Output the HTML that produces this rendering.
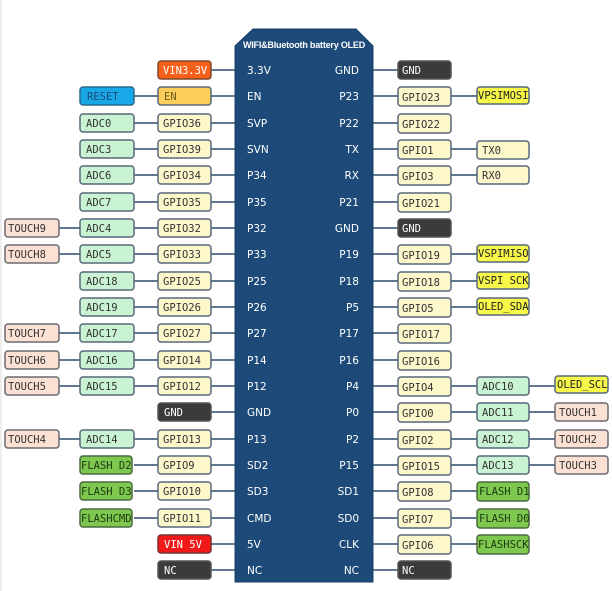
<!DOCTYPE html>
<html><head><meta charset="utf-8"><style>
html,body{margin:0;padding:0;background:#fff;width:612px;height:591px;overflow:hidden}
svg{display:block}
.b text{font-family:"DejaVu Sans Mono","Liberation Mono",monospace;font-size:10.5px}
.p text{font-family:"DejaVu Sans","Liberation Sans",sans-serif;font-size:10.5px;fill:#fff}
</style></head><body>
<svg width="612" height="591" viewBox="0 0 612 591" xmlns="http://www.w3.org/2000/svg">
<rect x="0" y="0" width="612" height="591" fill="#fff"/>
<rect x="0" y="0" width="2" height="591" fill="#eee"/>
<path d="M235,46 L253,29 L356,29 L373,46 L373,582 L235,582 Z" fill="#1d4a78" stroke="#17406a"/>
<text x="304" y="48" text-anchor="middle" font-family="Liberation Sans,sans-serif" font-size="9" font-weight="bold" letter-spacing="-0.2" fill="#fff">WIFI&amp;Bluetooth battery OLED</text>
<g stroke="#2d4d6b" stroke-width="1.6">
<line x1="211" y1="70" x2="235" y2="70"/>
<line x1="134" y1="96" x2="235" y2="96"/>
<line x1="134" y1="123" x2="235" y2="123"/>
<line x1="134" y1="149" x2="235" y2="149"/>
<line x1="134" y1="175" x2="235" y2="175"/>
<line x1="134" y1="202" x2="235" y2="202"/>
<line x1="59" y1="228" x2="235" y2="228"/>
<line x1="59" y1="254" x2="235" y2="254"/>
<line x1="134" y1="281" x2="235" y2="281"/>
<line x1="134" y1="307" x2="235" y2="307"/>
<line x1="59" y1="333" x2="235" y2="333"/>
<line x1="59" y1="360" x2="235" y2="360"/>
<line x1="59" y1="386" x2="235" y2="386"/>
<line x1="211" y1="412" x2="235" y2="412"/>
<line x1="59" y1="439" x2="235" y2="439"/>
<line x1="134" y1="465" x2="235" y2="465"/>
<line x1="134" y1="491" x2="235" y2="491"/>
<line x1="134" y1="518" x2="235" y2="518"/>
<line x1="211" y1="544" x2="235" y2="544"/>
<line x1="211" y1="570" x2="235" y2="570"/>
<line x1="373" y1="70" x2="398" y2="70"/>
<line x1="373" y1="96" x2="477" y2="96"/>
<line x1="373" y1="123" x2="398" y2="123"/>
<line x1="373" y1="149" x2="477" y2="149"/>
<line x1="373" y1="175" x2="477" y2="175"/>
<line x1="373" y1="202" x2="398" y2="202"/>
<line x1="373" y1="228" x2="398" y2="228"/>
<line x1="373" y1="254" x2="477" y2="254"/>
<line x1="373" y1="281" x2="477" y2="281"/>
<line x1="373" y1="307" x2="477" y2="307"/>
<line x1="373" y1="333" x2="398" y2="333"/>
<line x1="373" y1="360" x2="398" y2="360"/>
<line x1="373" y1="386" x2="555" y2="386"/>
<line x1="373" y1="412" x2="555" y2="412"/>
<line x1="373" y1="439" x2="555" y2="439"/>
<line x1="373" y1="465" x2="555" y2="465"/>
<line x1="373" y1="491" x2="477" y2="491"/>
<line x1="373" y1="518" x2="477" y2="518"/>
<line x1="373" y1="544" x2="477" y2="544"/>
<line x1="373" y1="570" x2="398" y2="570"/>
</g>
<g class="p">
<text x="247" y="74">3.3V</text><text x="247" y="100">EN</text><text x="247" y="127">SVP</text><text x="247" y="153">SVN</text><text x="247" y="179">P34</text><text x="247" y="206">P35</text><text x="247" y="232">P32</text><text x="247" y="258">P33</text><text x="247" y="285">P25</text><text x="247" y="311">P26</text><text x="247" y="337">P27</text><text x="247" y="364">P14</text><text x="247" y="390">P12</text><text x="247" y="416">GND</text><text x="247" y="443">P13</text><text x="247" y="469">SD2</text><text x="247" y="495">SD3</text><text x="247" y="522">CMD</text><text x="247" y="548">5V</text><text x="247" y="574">NC</text>
</g>
<g class="p" text-anchor="end">
<text x="359" y="74">GND</text><text x="359" y="100">P23</text><text x="359" y="127">P22</text><text x="359" y="153">TX</text><text x="359" y="179">RX</text><text x="359" y="206">P21</text><text x="359" y="232">GND</text><text x="359" y="258">P19</text><text x="359" y="285">P18</text><text x="359" y="311">P5</text><text x="359" y="337">P17</text><text x="359" y="364">P16</text><text x="359" y="390">P4</text><text x="359" y="416">P0</text><text x="359" y="443">P2</text><text x="359" y="469">P15</text><text x="359" y="495">SD1</text><text x="359" y="522">SD0</text><text x="359" y="548">CLK</text><text x="359" y="574">NC</text>
</g>
<g class="b" stroke-width="1.5">
<g stroke="#56687a" fill="#fdf8cc">
<rect x="158" y="61" width="53" height="18" rx="3" fill="#f7601a" stroke="#7a4a2a"/>
<rect x="158" y="87" width="53" height="18" rx="3" fill="#fbcf5a"/>
<rect x="158" y="114" width="53" height="18" rx="3"/>
<rect x="158" y="140" width="53" height="18" rx="3"/>
<rect x="158" y="166" width="53" height="18" rx="3"/>
<rect x="158" y="193" width="53" height="18" rx="3"/>
<rect x="158" y="219" width="53" height="18" rx="3"/>
<rect x="158" y="245" width="53" height="18" rx="3"/>
<rect x="158" y="272" width="53" height="18" rx="3"/>
<rect x="158" y="298" width="53" height="18" rx="3"/>
<rect x="158" y="324" width="53" height="18" rx="3"/>
<rect x="158" y="351" width="53" height="18" rx="3"/>
<rect x="158" y="377" width="53" height="18" rx="3"/>
<rect x="158" y="403" width="53" height="18" rx="3" fill="#3b3b3b" stroke="#555"/>
<rect x="158" y="430" width="53" height="18" rx="3"/>
<rect x="158" y="456" width="53" height="18" rx="3"/>
<rect x="158" y="482" width="53" height="18" rx="3"/>
<rect x="158" y="509" width="53" height="18" rx="3"/>
<rect x="158" y="535" width="53" height="18" rx="3" fill="#f01818" stroke="#7a3030"/>
<rect x="158" y="561" width="53" height="18" rx="3" fill="#3b3b3b" stroke="#555"/>
</g>
<g stroke="#56687a" fill="#c9f3d3">
<rect x="80" y="87" width="54" height="18" rx="3" fill="#18a8e8" stroke="#2a6a8a"/>
<rect x="80" y="114" width="54" height="18" rx="3"/>
<rect x="80" y="140" width="54" height="18" rx="3"/>
<rect x="80" y="166" width="54" height="18" rx="3"/>
<rect x="80" y="193" width="54" height="18" rx="3"/>
<rect x="80" y="219" width="54" height="18" rx="3"/>
<rect x="80" y="245" width="54" height="18" rx="3"/>
<rect x="80" y="272" width="54" height="18" rx="3"/>
<rect x="80" y="298" width="54" height="18" rx="3"/>
<rect x="80" y="324" width="54" height="18" rx="3"/>
<rect x="80" y="351" width="54" height="18" rx="3"/>
<rect x="80" y="377" width="54" height="18" rx="3"/>
<rect x="80" y="430" width="54" height="18" rx="3"/>
<rect x="80" y="456" width="52" height="18" rx="3" fill="#7fc850" stroke="#4a6a40"/>
<rect x="80" y="482" width="52" height="18" rx="3" fill="#7fc850" stroke="#4a6a40"/>
<rect x="80" y="509" width="52" height="18" rx="3" fill="#7fc850" stroke="#4a6a40"/>
</g>
<g stroke="#6a6a72" fill="#fbe1d3">
<rect x="5" y="219" width="54" height="18" rx="3"/>
<rect x="5" y="245" width="54" height="18" rx="3"/>
<rect x="5" y="324" width="54" height="18" rx="3"/>
<rect x="5" y="351" width="54" height="18" rx="3"/>
<rect x="5" y="377" width="54" height="18" rx="3"/>
<rect x="5" y="430" width="54" height="18" rx="3"/>
</g>
<g stroke="#56687a" fill="#fdf8cc">
<rect x="398" y="61" width="53" height="18" rx="3" fill="#3b3b3b" stroke="#555"/>
<rect x="398" y="87" width="53" height="19" rx="3"/>
<rect x="398" y="114" width="53" height="19" rx="3"/>
<rect x="398" y="140" width="53" height="19" rx="3"/>
<rect x="398" y="166" width="53" height="19" rx="3"/>
<rect x="398" y="193" width="53" height="19" rx="3"/>
<rect x="398" y="219" width="53" height="18" rx="3" fill="#3b3b3b" stroke="#555"/>
<rect x="398" y="245" width="53" height="19" rx="3"/>
<rect x="398" y="272" width="53" height="19" rx="3"/>
<rect x="398" y="298" width="53" height="19" rx="3"/>
<rect x="398" y="324" width="53" height="19" rx="3"/>
<rect x="398" y="351" width="53" height="19" rx="3"/>
<rect x="398" y="377" width="53" height="19" rx="3"/>
<rect x="398" y="403" width="53" height="19" rx="3"/>
<rect x="398" y="430" width="53" height="19" rx="3"/>
<rect x="398" y="456" width="53" height="19" rx="3"/>
<rect x="398" y="482" width="53" height="19" rx="3"/>
<rect x="398" y="509" width="53" height="19" rx="3"/>
<rect x="398" y="535" width="53" height="19" rx="3"/>
<rect x="398" y="561" width="53" height="18" rx="3" fill="#3b3b3b" stroke="#555"/>
</g>
<g stroke="#56687a">
<rect x="477" y="87" width="52" height="17" rx="3" fill="#f8f84a"/>
<rect x="477" y="141" width="52" height="18" rx="3" fill="#fdf8cc"/>
<rect x="477" y="166" width="52" height="18" rx="3" fill="#fdf8cc"/>
<rect x="477" y="245" width="52" height="17" rx="3" fill="#f8f84a"/>
<rect x="477" y="272" width="52" height="17" rx="3" fill="#f8f84a"/>
<rect x="477" y="298" width="52" height="17" rx="3" fill="#f8f84a"/>
<rect x="477" y="377" width="52" height="18" rx="3" fill="#c9f3d3"/>
<rect x="477" y="403" width="52" height="18" rx="3" fill="#c9f3d3"/>
<rect x="477" y="430" width="52" height="18" rx="3" fill="#c9f3d3"/>
<rect x="477" y="456" width="52" height="18" rx="3" fill="#c9f3d3"/>
<rect x="477" y="482" width="52" height="19" rx="3" fill="#7fc850" stroke="#4a6a40"/>
<rect x="477" y="509" width="52" height="19" rx="3" fill="#7fc850" stroke="#4a6a40"/>
<rect x="477" y="535" width="52" height="19" rx="3" fill="#7fc850" stroke="#4a6a40"/>
</g>
<g stroke="#6a6a72" fill="#fbe1d3">
<rect x="555" y="376" width="53" height="17" rx="3" fill="#f8f84a" stroke="#56687a"/>
<rect x="555" y="403" width="53" height="18" rx="3"/>
<rect x="555" y="430" width="53" height="18" rx="3"/>
<rect x="555" y="456" width="53" height="18" rx="3"/>
</g>
<g fill="#333">
<text x="163" y="74" fill="#fff">VIN3.3V</text>
<text x="164" y="100" fill="#6a5a20">EN</text>
<text x="163" y="127">GPIO36</text><text x="163" y="153">GPIO39</text><text x="163" y="179">GPIO34</text><text x="163" y="206">GPIO35</text><text x="163" y="232">GPIO32</text><text x="163" y="258">GPIO33</text><text x="163" y="285">GPIO25</text><text x="163" y="311">GPIO26</text><text x="163" y="337">GPIO27</text><text x="163" y="364">GPIO14</text><text x="163" y="390">GPIO12</text>
<text x="164" y="416" fill="#fff">GND</text>
<text x="163" y="443">GPIO13</text><text x="163" y="469">GPIO9</text><text x="163" y="495">GPIO10</text><text x="163" y="522">GPIO11</text>
<text x="164" y="548" fill="#fff">VIN 5V</text>
<text x="164" y="574" fill="#fff">NC</text>
<text x="87" y="100" fill="#1a4a7a">RESET</text>
<text x="86" y="127">ADC0</text><text x="86" y="153">ADC3</text><text x="86" y="179">ADC6</text><text x="86" y="206">ADC7</text><text x="86" y="232">ADC4</text><text x="86" y="258">ADC5</text><text x="86" y="285">ADC18</text><text x="86" y="311">ADC19</text><text x="86" y="337">ADC17</text><text x="86" y="364">ADC16</text><text x="86" y="390">ADC15</text><text x="86" y="443">ADC14</text>
<text x="81" y="469" fill="#1a3a10">FLASH D2</text><text x="81" y="495" fill="#1a3a10">FLASH D3</text><text x="81" y="522" fill="#1a3a10">FLASHCMD</text>
<text x="8" y="232">TOUCH9</text><text x="8" y="258">TOUCH8</text><text x="8" y="337">TOUCH7</text><text x="8" y="364">TOUCH6</text><text x="8" y="390">TOUCH5</text><text x="8" y="443">TOUCH4</text>
<text x="402" y="74" fill="#fff">GND</text>
<text x="402" y="101">GPIO23</text><text x="402" y="128">GPIO22</text><text x="402" y="154">GPIO1</text><text x="402" y="180">GPIO3</text><text x="402" y="207">GPIO21</text>
<text x="402" y="232" fill="#fff">GND</text>
<text x="402" y="259">GPIO19</text><text x="402" y="286">GPIO18</text><text x="402" y="312">GPIO5</text><text x="402" y="338">GPIO17</text><text x="402" y="365">GPIO16</text><text x="402" y="391">GPIO4</text><text x="402" y="417">GPIO0</text><text x="402" y="444">GPIO2</text><text x="402" y="470">GPIO15</text><text x="402" y="496">GPIO8</text><text x="402" y="523">GPIO7</text><text x="402" y="549">GPIO6</text>
<text x="402" y="574" fill="#fff">NC</text>
<text x="478" y="99" fill="#222">VPSIMOSI</text>
<text x="482" y="154">TX0</text><text x="482" y="179">RX0</text>
<text x="478" y="257" fill="#222">VSPIMISO</text><text x="478" y="284" fill="#222">VSPI SCK</text><text x="478" y="310" fill="#222">OLED_SDA</text>
<text x="482" y="390">ADC10</text><text x="482" y="416">ADC11</text><text x="482" y="443">ADC12</text><text x="482" y="469">ADC13</text>
<text x="479" y="495" fill="#1a3a10">FLASH D1</text><text x="479" y="522" fill="#1a3a10">FLASH D0</text><text x="478" y="548" fill="#1a3a10">FLASHSCK</text>
<text x="557" y="388" fill="#222">OLED_SCL</text>
<text x="559" y="416">TOUCH1</text><text x="559" y="443">TOUCH2</text><text x="559" y="469">TOUCH3</text>
</g>
</g>
</svg>
</body></html>
